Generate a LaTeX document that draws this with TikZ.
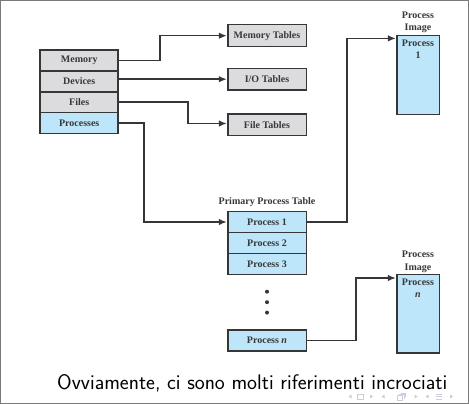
\documentclass[tikz,border=0pt]{standalone}
\usepackage{fontspec}
\setmainfont{Liberation Serif}
\usetikzlibrary{arrows.meta}
\definecolor{boxline}{HTML}{363638}
\definecolor{grayfill}{HTML}{DCDCDE}
\definecolor{bluefill}{HTML}{BEE6FA}
\definecolor{labeltext}{HTML}{383838}
\definecolor{framegray}{HTML}{7A7A7A}
\definecolor{navcol}{HTML}{CFCBDD}
\begin{document}
\begin{tikzpicture}[x=1pt,y=-1pt,
  cell/.style={draw=boxline,line width=1.6pt,inner sep=0pt,
    text=labeltext,font=\fontsize{10}{12.4}\selectfont\bfseries},
  grey/.style={cell,fill=grayfill},
  blue/.style={cell,fill=bluefill},
  stackcell/.style={minimum width=78pt,minimum height=20.8pt},
  tablecell/.style={minimum width=78.6pt,minimum height=21pt},
  imagebox/.style={blue,minimum width=42.6pt,minimum height=78.8pt},
  caption/.style={text=labeltext,font=\fontsize{10}{12.4}\selectfont\bfseries,
    align=center,inner sep=0pt},
  link/.style={draw=boxline,line width=1.6pt,
    -{Latex[length=8pt,width=6.5pt]}},
  nav/.style={navcol,line width=0.5pt}]

% page frame
\useasboundingbox (0,0) rectangle (469,404);
\draw[framegray,line width=1.2pt] (0.6,0.6) rectangle (468.4,403.4);

% resource stack on the left
\node[grey,stackcell] (mem)   at (79.2,60.7)  {Memory};
\node[grey,stackcell] (dev)   at (79.2,81.5)  {Devices};
\node[grey,stackcell] (files) at (79.2,102.3) {Files};
\node[blue,stackcell] (procs) at (79.2,123.1) {Processes};

% per-resource tables
\node[grey,tablecell,minimum height=22pt]  (memt)  at (267,35.7)  {Memory Tables};
\node[grey,tablecell,minimum height=21.7pt] (iot)  at (267,79.2)  {I/O Tables};
\node[grey,tablecell,minimum height=21.3pt] (filet) at (267,124.7) {File Tables};

% primary process table
\node[caption] (ptitle) at (267,201.7) {Primary Process Table};
\node[blue,tablecell] (p1) at (267,222)   {Process 1};
\node[blue,tablecell] (p2) at (267,242.8) {Process 2};
\node[blue,tablecell] (p3) at (267,263.8) {Process 3};
\foreach \yy/\nm in {291.7/da,302.2/db,312.6/dc}
  \fill[boxline] (267,\yy) circle (2pt) coordinate (\nm);
\node[blue,tablecell] (pn) at (267,340.5) {Process \textit{n}};

% process images
\node[caption] (img1lbl) at (418,22.5) {Process\\Image};
\node[imagebox] (img1) at (418,75) {};
\node[caption,anchor=north] (img1txt) at ([yshift=-5pt]img1.north) {Process\\1};

\node[caption] (imgnlbl) at (418,261.7) {Process\\Image};
\node[imagebox] (imgn) at (418,313.8) {};
\node[caption,anchor=north] (imgntxt) at ([yshift=-5pt]imgn.north) {Process\\\textit{n}};

% connectors
\draw[link] (mem.east) -- ++(40.8,0) |- (memt.west);
\draw[link] (dev.east |- iot.west) -- (iot.west);
\draw[link] (files.east) -- ++(68.7,0) |- ([yshift=1.2pt]filet.west);
\draw[link] (procs.east) -- ++(25,0) |- (p1.west);
\draw[link] (p1.east) -- ++(39.7,0) |- ([yshift=-3.6pt]img1.north west);
\draw[link] (pn.east) -- ++(49,0) |- ([yshift=-4.4pt]imgn.north west);

% slide caption
\node[anchor=base west,inner sep=0pt,font=\fontsize{21.1}{24}\sffamily] (cap)
  at (57,389) {Ovviamente, ci sono molti riferimenti incrociati};

% navigation symbols
\fill[navcol] (348.5,396.5) -- (351.5,394.5) -- (351.5,398.5) -- cycle;
\draw[nav] (357.5,394) rectangle (363,399);
\fill[navcol] (373,396.5) -- (370,394.5) -- (370,398.5) -- cycle;
\fill[navcol] (381.5,396.5) -- (384.5,394.5) -- (384.5,398.5) -- cycle;
\draw[nav] (397.5,395.5) rectangle (402.5,400);
\draw[nav] (399,394.5) -- (404,394.5) -- (404,398.5);
\draw[nav] (400.5,393.2) -- (405.5,393.2) -- (405.5,397);
\fill[navcol] (417.5,396.5) -- (414.5,394.5) -- (414.5,398.5) -- cycle;
\fill[navcol] (425.5,396.5) -- (428.5,394.5) -- (428.5,398.5) -- cycle;
\draw[nav] (436,394) -- (442,394) (436,396.5) -- (442,396.5) (436,399) -- (442,399);
\fill[navcol] (453,396.5) -- (450,394.5) -- (450,398.5) -- cycle;
\end{tikzpicture}
\end{document}
